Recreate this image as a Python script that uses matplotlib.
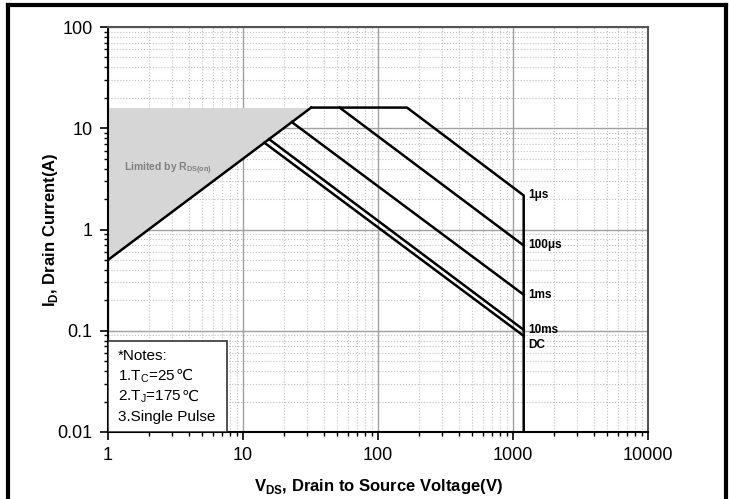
import matplotlib
matplotlib.use("Agg")
import matplotlib.pyplot as plt
from matplotlib.lines import Line2D
from matplotlib.ticker import LogLocator, FixedLocator, NullFormatter

plt.rcParams['font.family'] = ['Liberation Sans', 'DejaVu Sans']
plt.rcParams['mathtext.fontset'] = 'custom'
plt.rcParams['mathtext.rm'] = 'Liberation Sans'
plt.rcParams['mathtext.bf'] = 'Liberation Sans:bold'

# SOA boundary (corner points)
rds_v = [1, 32]
rds_i = [0.5, 16]
shade_v = [1, 1, 32]
shade_i = [0.5, 16, 16]

v_1us = [32, 164, 1200, 1200]
i_1us = [16, 16, 2.17, 0.01]
v_100us = [52, 1200]
i_100us = [16, 0.695]
v_1ms = [23, 1200]
i_1ms = [11.5, 0.227]
v_10ms = [15.6, 1200]
i_10ms = [7.8, 0.102]
v_dc = [14.4, 1200]
i_dc = [7.2, 0.089]

labels = ["1\u03bcs", "100\u03bcs", "1ms", "10ms", "DC"]
label_i = [2.17, 0.695, 0.227, 0.102, 0.072]

notes = ["*Notes:", "1.T$_\\mathregular{C}$=25",
         "2.T$_\\mathregular{J}$=175", "3.Single Pulse"]
notes_unit = ["", "\u2103", "\u2103", ""]

fig = plt.figure(figsize=(7.29, 4.99), dpi=100)
ax = fig.add_axes([108/729, 1-432/499, 540/729, 405/499])

ax.fill(shade_v, shade_i, color="#d6d6d6", lw=0, zorder=1)
lw = 1.8
ax.plot(rds_v, rds_i, color="black", lw=lw, zorder=3)
ax.plot(v_1us, i_1us, color="black", lw=lw, zorder=3)
ax.plot(v_100us, i_100us, color="black", lw=lw, zorder=3)
ax.plot(v_1ms, i_1ms, color="black", lw=lw, zorder=3)
ax.plot(v_10ms, i_10ms, color="black", lw=lw, zorder=3)
ax.plot(v_dc, i_dc, color="black", lw=lw, zorder=3)

for lab, yi in zip(labels, label_i):
    ax.text(1290, yi, lab, fontsize=8.5, fontweight="bold", va="center", ha="left", zorder=4)

ax.text(1.32, 4.0, "Limited by R$_\\mathregular{DS(on)}$", fontsize=7.5, color="#808080",
        fontweight="bold", va="center", ha="left", zorder=4)

ax.set_xscale("log")
ax.set_yscale("log")
ax.set_xlim(1, 10000)
ax.set_ylim(0.01, 100)

ax.xaxis.set_major_locator(FixedLocator([1, 10, 100, 1000, 10000]))
ax.yaxis.set_major_locator(FixedLocator([0.01, 0.1, 1, 10, 100]))
ax.set_xticklabels(["1", "10", "100", "1000", "10000"])
ax.set_yticklabels(["0.01", "0.1", "1", "10", "100"])
ax.xaxis.set_minor_locator(LogLocator(base=10, subs=range(2, 10), numticks=20))
ax.yaxis.set_minor_locator(LogLocator(base=10, subs=range(2, 10), numticks=20))
ax.xaxis.set_minor_formatter(NullFormatter())
ax.yaxis.set_minor_formatter(NullFormatter())

ax.tick_params(which="major", direction="out", length=6, width=1.2, labelsize=13, pad=5)
ax.tick_params(which="minor", direction="out", length=3, width=1.0)

ax.grid(which="major", color="#a0a0a0", lw=1.0, ls="-", zorder=0)
ax.grid(which="minor", color="#c0c0c0", lw=0.8, ls=":", zorder=0)
ax.set_axisbelow(True)
for s in ax.spines.values():
    s.set_linewidth(1.5)
ax.spines["top"].set_color("#555555")
ax.spines["right"].set_color("#555555")

ax.set_xlabel("V$_\\mathregular{DS}$, Drain to Source Voltage(V)", fontsize=12, fontweight="bold", labelpad=9)
ax.set_ylabel("I$_\\mathregular{D}$, Drain Current(A)", fontsize=12, fontweight="bold", labelpad=-2)

# notes box
box = plt.Rectangle((0, 0), 119/540, 91/405, transform=ax.transAxes,
                    facecolor="white", edgecolor="#333333", lw=1.2, zorder=5)
ax.add_patch(box)
note_txts = []
for k, t in enumerate(notes):
    txt = ax.text(10/540, (72 - k*20.3)/405, t, transform=ax.transAxes, fontsize=11,
                  va="baseline", ha="left", zorder=6)
    note_txts.append(txt)

fig.canvas.draw()
inv = ax.transAxes.inverted()
for k, txt in enumerate(note_txts):
    if notes_unit[k]:
        bb = txt.get_window_extent()
        xr = inv.transform((bb.x1, bb.y0))[0]
        ax.text(xr - 0.5/540, (72 - k*20.3)/405, notes_unit[k], transform=ax.transAxes,
                fontsize=11, family="DejaVu Sans", va="baseline", ha="left", zorder=6)

# outer frame
fig.add_artist(Line2D([8/729, 8/729], [0, 1-5/499], color="black", lw=3))
fig.add_artist(Line2D([8/729, 726/729], [1-5/499, 1-5/499], color="black", lw=3))
fig.add_artist(Line2D([726/729, 726/729], [0, 1-5/499], color="black", lw=3))

fig.savefig("out.png", dpi=100)
